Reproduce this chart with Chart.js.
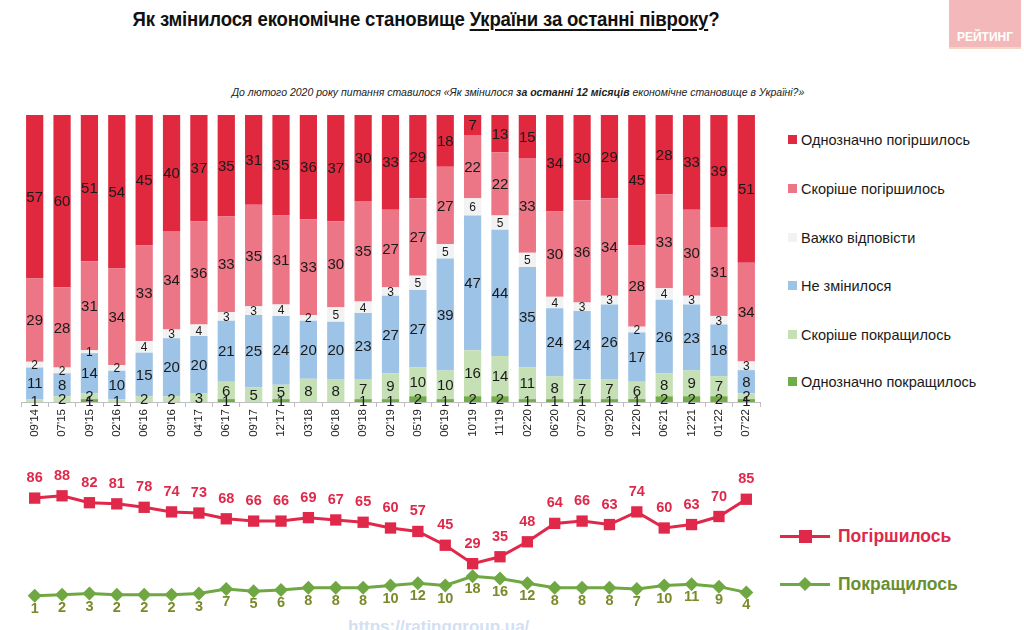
<!DOCTYPE html>
<html>
<head>
<meta charset="utf-8">
<script src="https://cdn.jsdelivr.net/npm/chart.js@4.4.1/dist/chart.umd.min.js"></script>
<style>
  body { margin: 0; width: 1024px; height: 630px; background: #fff; position: relative; overflow: hidden; font-family: "Liberation Sans", Arial, sans-serif; }
  .title { position: absolute; left: 0; width: 852px; top: 8px; text-align: center; font: bold 20px "Liberation Sans Narrow", "Arial Narrow", "Liberation Sans", sans-serif; color: #111; letter-spacing: -0.2px; transform: scaleX(0.93); transform-origin: 426px 0; }
  .title u { text-decoration-thickness: 1.5px; text-underline-offset: 3px; }
  .sub { position: absolute; left: 0; width: 1036px; top: 86px; text-align: center; font: italic 10.5px "Liberation Sans Narrow", "Arial Narrow", "Liberation Sans", sans-serif; color: #222; }
  .logo { position: absolute; left: 949px; top: 0; width: 72px; height: 47px; background: #f3b9ba; border-bottom: 2px solid #f7d6c6; }
  .logo span { position: absolute; left: 0; right: 0; top: 30px; text-align: center; color: #fff; font: bold 12px "Liberation Sans", sans-serif; }
  .leg { position: absolute; left: 788px; font-size: 14.5px; color: #1a1a1a; }
  .leg i { display: inline-block; width: 9px; height: 9px; margin-right: 4px; vertical-align: 1px; }
  .lleg { position: absolute; left: 838px; font: bold 17.5px "Liberation Sans", sans-serif; }
  .url { position: absolute; left: 348px; top: 617px; font: bold 17px "Liberation Sans", sans-serif; color: #d3e0f2; }
  canvas { position: absolute; left: 0; }
</style>
</head>
<body>
<div class="title">Як змінилося економічне становище <u>України за останні півроку</u>?</div>
<div class="sub">До лютого 2020 року питання ставилося «Як змінилося <b>за останні 12 місяців</b> економічне становище в Україні?»</div>
<div class="logo"><span>РЕЙТИНГ</span></div>
<div class="url">https://ratinggroup.ua/</div>
<canvas id="bars" width="770" height="340" style="top:110px;width:770px;height:340px"></canvas>
<canvas id="lines" width="770" height="170" style="top:462px;width:770px;height:170px"></canvas>
<div id="legend"></div>
<script>
const labels = ["09'14","07'15","09'15","02'16","06'16","09'16","04'17","06'17","09'17","12'17","03'18","06'18","09'18","02'19","05'19","06'19","10'19","11'19","02'20","06'20","07'20","09'20","12'20","06'21","12'21","01'22","07'22"];

const defWorse    = [57,60,51,54,45,40,37,35,31,35,36,37,30,33,29,18,7,13,15,34,30,29,45,28,33,39,51];
const ratherWorse = [29,28,31,34,33,34,36,33,35,31,33,30,35,27,27,27,22,22,33,30,36,34,28,33,30,31,34];
const hardToSay   = [2,2,1,2,4,3,4,3,3,4,2,5,4,3,5,5,6,5,5,4,3,3,2,4,3,3,3];
const notChanged  = [11,8,14,10,15,20,20,21,25,24,20,20,23,27,27,39,47,44,35,24,24,26,17,26,23,18,8];
const ratherBetter= [1,2,2,1,2,2,3,6,5,5,8,8,7,9,10,10,16,14,11,8,7,7,6,8,9,7,2];
const defBetter   = [0,0,1,0,0,0,0,1,0,1,0,0,1,1,2,1,2,2,1,1,1,1,1,2,2,2,1];

const worseTotal  = [86,88,82,81,78,74,73,68,66,66,69,67,65,60,57,45,29,35,48,64,66,63,74,60,63,70,85];
const betterTotal = [1,2,3,2,2,2,3,7,5,6,8,8,8,10,12,10,18,16,12,8,8,8,7,10,11,9,4];

const RED = '#e0284a', GREEN = '#6fa843';

const barSeries = [
  {label: 'Однозначно погіршилось', data: defWorse, color: '#e0283f'},
  {label: 'Скоріше погіршилось', data: ratherWorse, color: '#ec7586'},
  {label: 'Важко відповісти', data: hardToSay, color: '#f2f2f2', small: true},
  {label: 'Не змінилося', data: notChanged, color: '#9dc3e6'},
  {label: 'Скоріше покращилось', data: ratherBetter, color: '#c5e0b4'},
  {label: 'Однозначно покращилось', data: defBetter, color: '#70ad47'}
];

// 100% stacked, like the original: each column is scaled to its own sum
const colSum = labels.map((_, j) => barSeries.reduce((a, s) => a + s.data[j], 0));

// legend on the right
const legendTops = [132, 181, 230, 278, 327, 374];
document.getElementById('legend').innerHTML = barSeries.map((s, i) =>
  `<div class="leg" style="top:${legendTops[i]}px"><i style="background:${s.color}"></i>${s.label}</div>`
).join('') +
  `<div style="position:absolute;left:780px;top:535px;width:50px;height:3px;background:${RED}"></div>
   <div style="position:absolute;left:799px;top:530px;width:13px;height:13px;background:${RED}"></div>
   <div class="lleg" style="top:526px;color:${RED}">Погіршилось</div>
   <div style="position:absolute;left:780px;top:583px;width:50px;height:3px;background:${GREEN}"></div>
   <div style="position:absolute;left:800px;top:579px;width:10px;height:10px;background:${GREEN};transform:rotate(45deg)"></div>
   <div class="lleg" style="top:574px;color:#6a8f2c">Покращилось</div>`;

const barLabels = {
  id: 'barLabels',
  afterDatasetsDraw(chart) {
    const ctx = chart.ctx;
    chart.data.datasets.forEach((ds, i) => {
      const meta = chart.getDatasetMeta(i);
      meta.data.forEach((bar, j) => {
        const v = ds.raw[j];
        if (!v) return;
        const p = bar.getProps(['x', 'y', 'base'], true);
        ctx.save();
        ctx.font = ds.small ? '12px "Liberation Sans", Arial' : '15px "Liberation Sans", Arial';
        ctx.fillStyle = '#1a1a1a';
        ctx.textAlign = 'center';
        ctx.textBaseline = 'middle';
        ctx.fillText(v, p.x, (p.y + p.base) / 2 + 1);
        ctx.restore();
      });
    });
  }
};

new Chart(document.getElementById('bars'), {
  type: 'bar',
  data: {
    labels: labels,
    datasets: barSeries.slice().reverse().map(s => ({
      label: s.label,
      data: s.data.map((v, j) => v / colSum[j] * 100),
      raw: s.data,
      small: s.small,
      backgroundColor: s.color,
      borderWidth: 0,
      barPercentage: 0.63,
      categoryPercentage: 1
    }))
  },
  options: {
    responsive: false,
    animation: false,
    layout: {padding: {left: 21, right: 10, top: 5, bottom: 0}},
    plugins: {legend: {display: false}, tooltip: {enabled: false}},
    scales: {
      x: {
        stacked: true,
        afterFit: s => { s.height = 48; },
        grid: {display: true, drawOnChartArea: false, drawTicks: true, tickLength: 5, offset: true, color: '#bfbfbf'},
        border: {display: true, color: '#bfbfbf'},
        ticks: {minRotation: 90, maxRotation: 90, padding: 2, color: '#222', font: {size: 11.5, family: '"Liberation Sans", Arial'}}
      },
      y: {stacked: true, display: false, min: 0, max: 100}
    }
  },
  plugins: [barLabels]
});

const lineLabels = {
  id: 'lineLabels',
  afterDatasetsDraw(chart) {
    const ctx = chart.ctx;
    chart.data.datasets.forEach((ds, i) => {
      const meta = chart.getDatasetMeta(i);
      meta.data.forEach((pt, j) => {
        ctx.save();
        ctx.font = 'bold 14.5px "Liberation Sans Narrow", "Arial Narrow", "Liberation Sans", sans-serif';
        ctx.fillStyle = ds.labelColor;
        ctx.textAlign = 'center';
        ctx.textBaseline = 'middle';
        ctx.fillText(ds.data[j], pt.x, pt.y + ds.labelOffset);
        ctx.restore();
      });
    });
  }
};

new Chart(document.getElementById('lines'), {
  type: 'line',
  data: {
    labels: labels,
    datasets: [
      {data: worseTotal, borderColor: RED, backgroundColor: RED, borderWidth: 3, pointStyle: 'rect', pointRadius: 8, pointBorderWidth: 0, labelColor: RED, labelOffset: -20, clip: false},
      {data: betterTotal, borderColor: GREEN, backgroundColor: GREEN, borderWidth: 3, pointStyle: 'rectRot', pointRadius: 7, pointBorderWidth: 0, labelColor: '#7a8a2a', labelOffset: 13, clip: false}
    ]
  },
  options: {
    responsive: false,
    animation: false,
    layout: {padding: {left: 21, right: 10, top: 20, bottom: 35}},
    plugins: {legend: {display: false}, tooltip: {enabled: false}},
    scales: {
      x: {display: false, offset: true},
      y: {display: false, min: 0, max: 100}
    }
  },
  plugins: [lineLabels]
});
</script>
</body>
</html>
